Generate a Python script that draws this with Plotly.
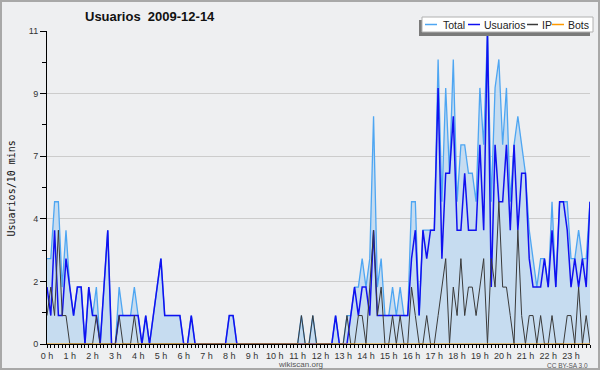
import plotly.graph_objects as go

W, H = 600, 370
ML, MR, MT, MB = 47, 10, 31, 26

# ---- data (10-minute slots over the day) ----
slot = list(range(144))
hour_ticks = [0, 6, 12, 18, 24, 30, 36, 42, 48, 54, 60, 66,
              72, 78, 84, 90, 96, 102, 108, 114, 120, 126, 132, 138]
hour_labels = ["0 h", "1 h", "2 h", "3 h", "4 h", "5 h", "6 h", "7 h",
               "8 h", "9 h", "10 h", "11 h", "12 h", "13 h", "14 h", "15 h",
               "16 h", "17 h", "18 h", "19 h", "20 h", "21 h", "22 h", "23 h"]

total = [3, 3, 5, 5, 2, 4, 2, 1, 2, 2, 0, 2,
         1, 2, 0, 2, 4, 0, 0, 2, 1, 1, 1, 2,
         1, 0, 1, 0, 1, 2, 3, 1, 1, 1, 1, 1,
         0, 0, 1, 0, 0, 0, 0, 0, 0, 0, 0, 0,
         1, 1, 0, 0, 0, 0, 0, 0, 0, 0, 0, 0,
         0, 0, 0, 0, 0, 0, 0, 1, 0, 0, 1, 0,
         0, 0, 0, 0, 1, 0, 0, 1, 1, 2, 2, 3,
         2, 3, 8, 2, 3, 1, 1, 2, 1, 2, 1, 1,
         5, 5, 1, 4, 4, 4, 4, 10, 5, 9, 6, 10,
         5, 7, 7, 6, 6, 5, 9, 7, 11, 5, 9, 10,
         7, 9, 5, 7, 8, 7, 6, 4, 3, 2, 3, 3,
         2, 5, 2, 5, 5, 5, 3, 3, 4, 3, 3, 5]

usuarios = [2, 1, 4, 1, 1, 3, 2, 1, 2, 2, 0, 2,
            1, 1, 0, 2, 4, 0, 0, 1, 1, 1, 1, 1,
            1, 0, 1, 0, 1, 2, 3, 1, 1, 1, 1, 1,
            0, 0, 1, 0, 0, 0, 0, 0, 0, 0, 0, 0,
            1, 1, 0, 0, 0, 0, 0, 0, 0, 0, 0, 0,
            0, 0, 0, 0, 0, 0, 0, 0, 0, 0, 0, 0,
            0, 0, 0, 0, 1, 0, 0, 0, 1, 2, 1, 2,
            2, 1, 4, 1, 1, 1, 1, 1, 1, 1, 1, 1,
            3, 4, 1, 4, 3, 4, 4, 9, 3, 6, 6, 8,
            4, 4, 6, 4, 4, 4, 7, 4, 11, 2, 7, 5,
            5, 7, 4, 7, 4, 6, 6, 3, 2, 2, 2, 3,
            2, 4, 2, 5, 5, 4, 2, 3, 2, 3, 2, 5]

ip = [1, 2, 1, 4, 1, 1, 0, 0, 0, 0, 0, 0,
      0, 1, 0, 0, 0, 0, 0, 1, 0, 0, 0, 1,
      0, 0, 0, 0, 0, 0, 0, 0, 0, 0, 0, 0,
      0, 0, 0, 0, 0, 0, 0, 0, 0, 0, 0, 0,
      0, 0, 0, 0, 0, 0, 0, 0, 0, 0, 0, 0,
      0, 0, 0, 0, 0, 0, 0, 1, 0, 0, 1, 0,
      0, 0, 0, 0, 0, 0, 0, 1, 0, 0, 1, 1,
      0, 2, 4, 1, 2, 0, 0, 1, 0, 1, 0, 0,
      2, 1, 0, 0, 1, 0, 0, 1, 2, 3, 0, 2,
      1, 3, 1, 2, 2, 1, 2, 3, 0, 3, 2, 5,
      2, 2, 1, 0, 4, 1, 0, 1, 1, 0, 1, 0,
      0, 1, 0, 0, 0, 1, 1, 0, 2, 0, 1, 0]

bots = [0, 0, 0, 0, 0, 0, 0, 0, 0, 0, 0, 0,
        0, 0, 0, 0, 0, 0, 0, 0, 0, 0, 0, 0,
        0, 0, 0, 0, 0, 0, 0, 0, 0, 0, 0, 0,
        0, 0, 0, 0, 0, 0, 0, 0, 0, 0, 0, 0,
        0, 0, 0, 0, 0, 0, 0, 0, 0, 0, 0, 0,
        0, 0, 0, 0, 0, 0, 0, 0, 0, 0, 0, 0,
        0, 0, 0, 0, 0, 0, 0, 0, 0, 0, 0, 0,
        0, 0, 0, 0, 0, 0, 0, 0, 0, 0, 0, 0,
        0, 0, 0, 0, 0, 0, 0, 0, 0, 0, 0, 0,
        0, 0, 0, 0, 0, 0, 0, 0, 0, 0, 0, 0,
        0, 0, 0, 0, 0, 0, 0, 0, 0, 0, 0, 0,
        0, 0, 0, 0, 0, 0, 0, 0, 0, 0, 0, 0]

y_tickvals = [0, 2.2, 4.4, 6.6, 8.8, 11]
y_ticktext = ["0", "2", "4", "7", "9", "11"]
y_minor = [1.1, 3.3, 5.5, 7.7, 9.9]

series_names = ["Total", "Usuarios", "IP", "Bots"]
series_colors = ["#4ea6f2", "#1010f0", "#3a3a3a", "#ff9a00"]

BG = "#eeeff1"

# ---- helpers: figure pixel -> paper coords ----
PW = W - ML - MR
PH = H - MT - MB


def px(X):
    return (X - ML) / PW


def py(Y):
    return (H - MB - Y) / PH


fig = go.Figure()
fig.add_trace(go.Scatter(x=slot, y=total, mode="lines", name="Total",
                         line=dict(color=series_colors[0], width=1.3),
                         fill="tozeroy", fillcolor="#c6dcf0"))
fig.add_trace(go.Scatter(x=slot, y=usuarios, mode="lines", name="Usuarios",
                         line=dict(color=series_colors[1], width=1.5)))
fig.add_trace(go.Scatter(x=slot, y=ip, mode="lines", name="IP",
                         line=dict(color=series_colors[2], width=1)))
fig.add_trace(go.Scatter(x=slot, y=bots, mode="lines", name="Bots",
                         line=dict(color=series_colors[3], width=1)))

shapes = []
annotations = []

# outer frame
shapes.append(dict(type="rect", xref="paper", yref="paper",
                   x0=px(1), x1=px(599), y0=py(369), y1=py(1),
                   line=dict(color="#a8a8a8", width=2), layer="below"))

# custom legend box with shadow
shapes.append(dict(type="rect", xref="paper", yref="paper",
                   x0=px(419), x1=px(590), y0=py(36), y1=py(20),
                   line=dict(width=0), fillcolor="#7a7a7a", layer="above"))
shapes.append(dict(type="rect", xref="paper", yref="paper",
                   x0=px(422), x1=px(593), y0=py(32), y1=py(17),
                   line=dict(color="#b0b0b0", width=1), fillcolor="white",
                   layer="above"))
leg_line_x = [(425, 437), (468, 480), (527, 538), (552, 564)]
leg_text_x = [443, 484, 542, 568]
for (a, b), tx, name, col in zip(leg_line_x, leg_text_x, series_names, series_colors):
    shapes.append(dict(type="line", xref="paper", yref="paper",
                       x0=px(a), x1=px(b), y0=py(24.5), y1=py(24.5),
                       line=dict(color=col, width=1.5), layer="above"))
    annotations.append(dict(xref="paper", yref="paper", x=px(tx), y=py(24.5),
                            text=name, showarrow=False, xanchor="left",
                            yanchor="middle", xshift=-2,
                            font=dict(family="Liberation Sans", size=10.5,
                                      color="#222222")))

# title
annotations.append(dict(xref="paper", yref="paper", x=px(85), y=py(16.5),
                        text="<b>Usuarios  2009-12-14</b>", showarrow=False,
                        xanchor="left", yanchor="middle", xshift=-2,
                        font=dict(family="Liberation Sans", size=13,
                                  color="#111111")))
# y-axis label
annotations.append(dict(xref="paper", yref="paper", x=px(10.5), y=py(189),
                        text="Usuarios/10 mins", showarrow=False,
                        textangle=-90, xanchor="center", yanchor="middle",
                        font=dict(family="DejaVu Sans Mono", size=10,
                                  color="#111111")))
# footer texts
annotations.append(dict(xref="paper", yref="paper", x=px(300), y=py(364.5),
                        text="wikiscan.org", showarrow=False,
                        xanchor="center", yanchor="middle",
                        font=dict(family="Liberation Sans", size=8,
                                  color="#555555")))
annotations.append(dict(xref="paper", yref="paper", x=px(590), y=py(365),
                        text="CC BY-SA 3.0", showarrow=False,
                        xanchor="right", yanchor="middle",
                        font=dict(family="Liberation Sans", size=6.5,
                                  color="#555555")))

fig.update_layout(
    width=W, height=H,
    margin=dict(l=ML, r=MR, t=MT, b=MB, pad=0),
    paper_bgcolor=BG, plot_bgcolor=BG,
    showlegend=False,
    shapes=shapes, annotations=annotations,
    font=dict(family="Liberation Sans", size=9, color="#333333"),
    xaxis=dict(range=[0, 143], showline=True, linecolor="black", linewidth=1,
               ticks="outside", ticklen=3, tickcolor="black", tickwidth=1,
               tickmode="array", tickvals=hour_ticks, ticktext=hour_labels,
               showgrid=False, zeroline=False, fixedrange=True,
               tickfont=dict(family="Liberation Sans", size=9, color="#333333"),
               minor=dict(ticks="outside", dtick=1, tick0=0, ticklen=3,
                          tickcolor="black", tickwidth=1, showgrid=False)),
    yaxis=dict(range=[0, 11], showline=True, linecolor="black", linewidth=1,
               ticks="outside", ticklen=6, tickcolor="black", tickwidth=1,
               tickmode="array", tickvals=y_tickvals, ticktext=y_ticktext,
               showgrid=True, gridcolor="#cccccc", gridwidth=1,
               zeroline=False, fixedrange=True,
               tickfont=dict(family="Liberation Sans", size=9, color="#333333"),
               minor=dict(ticks="outside", tickmode="array", tickvals=y_minor,
                          ticklen=4, tickcolor="black", tickwidth=1,
                          showgrid=False)),
)

fig.write_html("out.html",
               config={"displayModeBar": False, "staticPlot": True},
               post_script="document.body.style.margin='0';"
                           "document.body.style.padding='0';")
